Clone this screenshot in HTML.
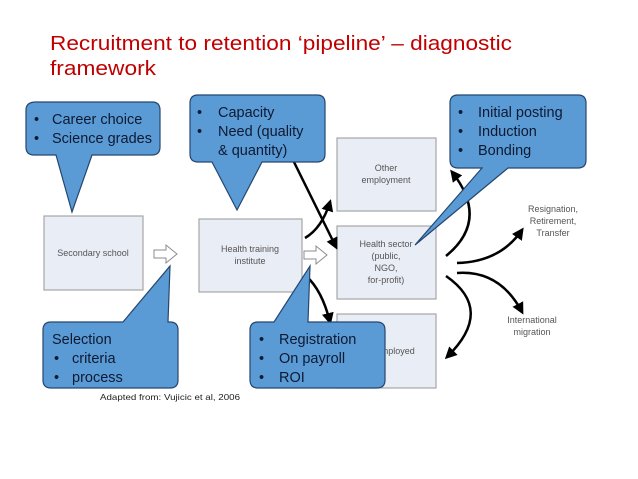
<!DOCTYPE html>
<html><head><meta charset="utf-8"><style>
html,body{margin:0;padding:0;background:#fff;}
svg{display:block;}
.t{font-family:"Liberation Sans",sans-serif;}
</style></head><body>
<svg width="638" height="479" viewBox="0 0 638 479" xmlns="http://www.w3.org/2000/svg">
<defs>
<marker id="ah" markerWidth="8" markerHeight="8" refX="6" refY="4" orient="auto" markerUnits="userSpaceOnUse" viewBox="0 0 8 8">
<path d="M0,0 L8,4 L0,8 Z" fill="#000"/></marker>
<marker id="ah2" markerWidth="12" markerHeight="12" refX="9" refY="6" orient="auto" markerUnits="userSpaceOnUse" viewBox="0 0 12 12">
<path d="M0,0 L12,6 L0,12 Z" fill="#000"/></marker>
</defs>
<text class="t" x="50" y="50" font-size="20" fill="#c00000" textLength="462" lengthAdjust="spacingAndGlyphs">Recruitment to retention ‘pipeline’ – diagnostic</text>
<text class="t" x="50" y="75" font-size="20" fill="#c00000" textLength="106" lengthAdjust="spacingAndGlyphs">framework</text>

<g fill="#e9edf6" stroke="#a6a6a6" stroke-width="1.2">
<rect x="44" y="216" width="99" height="74"/>
<rect x="199" y="219" width="103" height="73"/>
<rect x="337" y="138" width="99" height="73"/>
<rect x="337" y="226" width="99" height="73"/>
<rect x="337" y="314" width="99" height="74"/>
</g>
<g class="t" fill="#555" font-size="9" text-anchor="middle">
<text x="93" y="256">Secondary school</text>
<text x="250" y="252">Health training</text><text x="250" y="264">institute</text>
<text x="386" y="171">Other</text><text x="386" y="183">employment</text>
<text x="386" y="247">Health sector</text><text x="386" y="259">(public,</text><text x="386" y="271">NGO,</text><text x="386" y="283">for-profit)</text>
<text x="386" y="354">Self-employed</text>
<text x="553" y="212">Resignation,</text><text x="553" y="224">Retirement,</text><text x="553" y="236">Transfer</text>
<text x="532" y="323">International</text><text x="532" y="335">migration</text>
</g>
<g fill="#fff" stroke="#8c8c8c" stroke-width="1">
<path d="M154,250 L166,250 L166,245 L177,254 L166,263 L166,258 L154,258 Z"/>
<path d="M304,251 L316,251 L316,246 L327,255 L316,264 L316,259 L304,259 Z"/>
</g>

<g fill="none" stroke="#000" stroke-width="2.5">
<path d="M305,238 Q322,228 330,202" marker-end="url(#ah2)"/>
<path d="M292,158 L336,247" marker-end="url(#ah2)"/>
<path d="M306,276 Q322,290 330,322" marker-end="url(#ah2)"/>
<path d="M446,256 Q490,220 452,172" marker-end="url(#ah2)"/>
<path d="M457,263 Q500,262 522,230" marker-end="url(#ah2)"/>
<path d="M457,273 Q500,270 522,312" marker-end="url(#ah2)"/>
<path d="M446,276 Q495,310 447,357" marker-end="url(#ah2)"/>
</g>

<g fill="#5b9bd5" stroke="#24466f" stroke-width="1.2">
<path d="M36,102 H152 Q160,102 160,110 V147 Q160,155 152,155 H92 L72,212 L56,155 H34 Q26,155 26,147 V110 Q26,102 36,102 Z"/>
<path d="M198,95 H317 Q325,95 325,103 V154 Q325,162 317,162 H262 L237,210 L212,162 H198 Q190,162 190,154 V103 Q190,95 198,95 Z"/>
<path d="M458,95 H578 Q586,95 586,103 V160 Q586,168 578,168 H508 L415,245 L482,168 H458 Q450,168 450,160 V103 Q450,95 458,95 Z"/>
<path d="M51,322 H123 L170,266 L168,322 H170 Q178,322 178,330 V380 Q178,388 170,388 H51 Q43,388 43,380 V330 Q43,322 51,322 Z"/>
<path d="M258,322 H274 L310,266 L308,322 H377 Q385,322 385,330 V380 Q385,388 377,388 H258 Q250,388 250,380 V330 Q250,322 258,322 Z"/>
</g>
<g class="t" fill="#0d1a33" font-size="14.5">
<text x="34" y="124">•</text><text x="52" y="124">Career choice</text>
<text x="34" y="143">•</text><text x="52" y="143">Science grades</text>
<text x="197" y="117">•</text><text x="218" y="117">Capacity</text>
<text x="197" y="136">•</text><text x="218" y="136">Need (quality</text>
<text x="218" y="155">&amp; quantity)</text>
<text x="458" y="117">•</text><text x="478" y="117">Initial posting</text>
<text x="458" y="136">•</text><text x="478" y="136">Induction</text>
<text x="458" y="155">•</text><text x="478" y="155">Bonding</text>
<text x="52" y="344">Selection</text>
<text x="54" y="363">•</text><text x="72" y="363">criteria</text>
<text x="54" y="382">•</text><text x="72" y="382">process</text>
<text x="259" y="344">•</text><text x="279" y="344">Registration</text>
<text x="259" y="363">•</text><text x="279" y="363">On payroll</text>
<text x="259" y="382">•</text><text x="279" y="382">ROI</text>
</g>
<text class="t" x="100" y="400" font-size="8.5" fill="#222" textLength="140" lengthAdjust="spacingAndGlyphs">Adapted from: Vujicic et al, 2006</text>
</svg>
</body></html>
